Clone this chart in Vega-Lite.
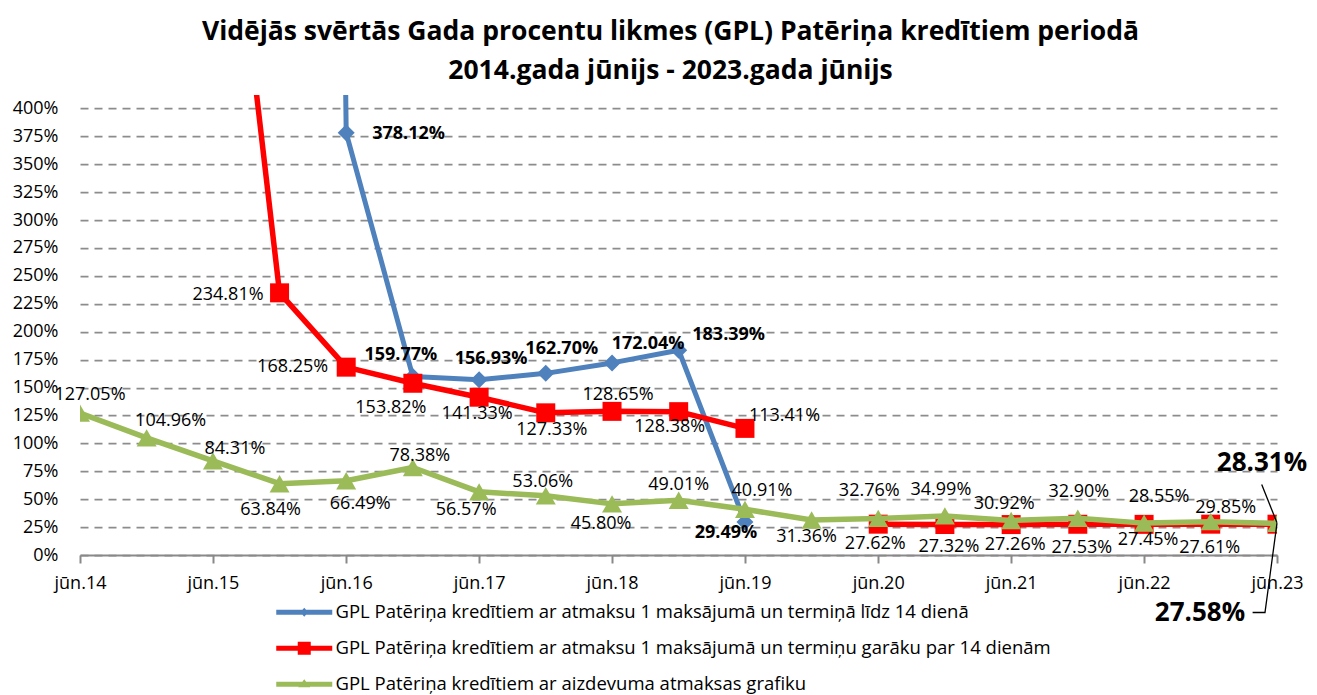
{
  "$schema": "https://vega.github.io/schema/vega-lite/v6.json",
  "width": 1197,
  "height": 460,
  "autosize": {"type": "none"},
  "padding": {"left": 80, "top": 95, "right": 40, "bottom": 140},
  "background": "white",
  "config": {
    "view": {"stroke": null},
    "font": "Open Sans",
    "text": {"font": "Open Sans", "fontSize": 18, "color": "#000000"}
  },
  "title": {
    "text": ["Vidējās svērtās Gada procentu likmes (GPL) Patēriņa kredītiem periodā", "2014.gada jūnijs - 2023.gada jūnijs"],
    "font": "Open Sans",
    "fontSize": 26.5,
    "fontWeight": "bold",
    "color": "#000000",
    "lineHeight": 39,
    "anchor": "middle",
    "frame": "group",
    "dx": -8,
    "offset": 11
  },
  "data": {
    "values": [
      {"d": "2014-06-01", "s": "G", "v": 1.2705},
      {"d": "2014-12-01", "s": "G", "v": 1.0496},
      {"d": "2015-06-01", "s": "G", "v": 0.8431},
      {"d": "2015-12-01", "s": "G", "v": 0.6384},
      {"d": "2016-06-01", "s": "G", "v": 0.6649},
      {"d": "2016-12-01", "s": "G", "v": 0.7838},
      {"d": "2017-06-01", "s": "G", "v": 0.5657},
      {"d": "2017-12-01", "s": "G", "v": 0.5306},
      {"d": "2018-06-01", "s": "G", "v": 0.4580},
      {"d": "2018-12-01", "s": "G", "v": 0.4901},
      {"d": "2019-06-01", "s": "G", "v": 0.4091},
      {"d": "2019-12-01", "s": "G", "v": 0.3136},
      {"d": "2020-06-01", "s": "G", "v": 0.3276},
      {"d": "2020-12-01", "s": "G", "v": 0.3499},
      {"d": "2021-06-01", "s": "G", "v": 0.3092},
      {"d": "2021-12-01", "s": "G", "v": 0.3290},
      {"d": "2022-06-01", "s": "G", "v": 0.2855},
      {"d": "2022-12-01", "s": "G", "v": 0.2985},
      {"d": "2023-06-01", "s": "G", "v": 0.2831},
      {"d": "2015-06-01", "s": "R", "v": 7.5},
      {"d": "2015-12-01", "s": "R", "v": 2.3481},
      {"d": "2016-06-01", "s": "R", "v": 1.6825},
      {"d": "2016-12-01", "s": "R", "v": 1.5382},
      {"d": "2017-06-01", "s": "R", "v": 1.4133},
      {"d": "2017-12-01", "s": "R", "v": 1.2733},
      {"d": "2018-06-01", "s": "R", "v": 1.2865},
      {"d": "2018-12-01", "s": "R", "v": 1.2838},
      {"d": "2019-06-01", "s": "R", "v": 1.1341},
      {"d": "2019-12-01", "s": "R", "v": null},
      {"d": "2020-06-01", "s": "R", "v": 0.2762},
      {"d": "2020-12-01", "s": "R", "v": 0.2732},
      {"d": "2021-06-01", "s": "R", "v": 0.2726},
      {"d": "2021-12-01", "s": "R", "v": 0.2753},
      {"d": "2022-06-01", "s": "R", "v": 0.2745},
      {"d": "2022-12-01", "s": "R", "v": 0.2761},
      {"d": "2023-06-01", "s": "R", "v": 0.2758},
      {"d": "2015-12-01", "s": "B", "v": 50},
      {"d": "2016-06-01", "s": "B", "v": 3.7812},
      {"d": "2016-12-01", "s": "B", "v": 1.5977},
      {"d": "2017-06-01", "s": "B", "v": 1.5693},
      {"d": "2017-12-01", "s": "B", "v": 1.6270},
      {"d": "2018-06-01", "s": "B", "v": 1.7204},
      {"d": "2018-12-01", "s": "B", "v": 1.8339},
      {"d": "2019-06-01", "s": "B", "v": 0.2949}
    ]
  },
  "encoding": {
    "x": {
      "field": "d",
      "type": "temporal",
      "scale": {"type": "utc", "domain": [{"year": 2014, "month": 6, "date": 1, "utc": true}, {"year": 2023, "month": 6, "date": 1, "utc": true}]},
      "axis": {
        "values": [
          {"year": 2014, "month": 6, "date": 1, "utc": true},
          {"year": 2015, "month": 6, "date": 1, "utc": true},
          {"year": 2016, "month": 6, "date": 1, "utc": true},
          {"year": 2017, "month": 6, "date": 1, "utc": true},
          {"year": 2018, "month": 6, "date": 1, "utc": true},
          {"year": 2019, "month": 6, "date": 1, "utc": true},
          {"year": 2020, "month": 6, "date": 1, "utc": true},
          {"year": 2021, "month": 6, "date": 1, "utc": true},
          {"year": 2022, "month": 6, "date": 1, "utc": true},
          {"year": 2023, "month": 6, "date": 1, "utc": true}
        ],
        "labelExpr": "'jūn.' + utcFormat(datum.value, '%y')",
        "title": null,
        "grid": false,
        "domainColor": "#898989",
        "domainWidth": 2,
        "tickColor": "#898989",
        "tickWidth": 2,
        "tickSize": 8,
        "labelFont": "Open Sans",
        "labelFontSize": 18,
        "labelColor": "#000000",
        "labelPadding": 11,
        "labelFlush": false,
        "labelOverlap": false
      }
    },
    "y": {
      "field": "v",
      "type": "quantitative",
      "scale": {"domain": [0, 4.12], "nice": false, "zero": true},
      "axis": {
        "values": [0, 0.25, 0.5, 0.75, 1, 1.25, 1.5, 1.75, 2, 2.25, 2.5, 2.75, 3, 3.25, 3.5, 3.75, 4],
        "format": ".0%",
        "title": null,
        "domain": false,
        "ticks": false,
        "tickSize": 0,
        "grid": true,
        "gridColor": "#8c8c8c",
        "gridDash": [8, 6],
        "gridWidth": 1.75,
        "labelFont": "Open Sans",
        "labelFontSize": 18,
        "labelColor": "#000000",
        "labelPadding": 22
      }
    },
    "color": {
      "field": "s",
      "type": "nominal",
      "scale": {"domain": ["B", "R", "G"], "range": ["#4F81BD", "#FF0000", "#9BBB59"]},
      "legend": {
        "orient": "none",
        "legendX": 215,
        "legendY": 508,
        "direction": "vertical",
        "title": null,
        "labelFont": "Open Sans",
        "labelFontSize": 18.5,
        "labelColor": "#000000",
        "labelLimit": 0,
        "labelOffset": 22,
        "rowPadding": 17,
        "symbolSize": 196,
        "labelExpr": "datum.value == 'B' ? 'GPL Patēriņa kredītiem ar atmaksu 1 maksājumā un termiņā līdz 14 dienā' : datum.value == 'R' ? 'GPL Patēriņa kredītiem ar atmaksu 1 maksājumā un termiņu garāku par 14 dienām' : 'GPL Patēriņa kredītiem ar aizdevuma atmaksas grafiku'",
        "encode": {
          "symbols": {
            "update": {
              "shape": {"signal": "datum.value == 'B' ? 'M-4,-0.36H4V0.36H-4Z M0,-0.64L0.57,0L0,0.64L-0.57,0Z' : datum.value == 'R' ? 'M-4,-0.36H4V0.36H-4Z M-0.93,-0.93H0.93V0.93H-0.93Z' : 'M-4,-0.36H4V0.36H-4Z M0,-0.71L0.86,0.43L-0.86,0.43Z'"},
              "fill": {"signal": "datum.value == 'B' ? '#4F81BD' : datum.value == 'R' ? '#FF0000' : '#9BBB59'"},
              "stroke": {"value": "transparent"},
              "strokeWidth": {"value": 0},
              "opacity": {"value": 1}
            }
          }
        }
      }
    }
  },
  "layer": [
    {"transform": [{"filter": "datum.s == 'B'"}], "mark": {"type": "line", "strokeWidth": 5, "clip": true, "strokeJoin": "round", "strokeCap": "round"}},
    {"transform": [{"filter": "datum.s == 'B'"}], "mark": {"type": "point", "shape": "diamond", "filled": true, "size": 289, "opacity": 1, "clip": true}},
    {"transform": [{"filter": "datum.s == 'R'"}], "mark": {"type": "line", "strokeWidth": 5.5, "clip": true, "strokeJoin": "round", "strokeCap": "round", "invalid": "break-paths-filter-domains"}},
    {"transform": [{"filter": "datum.s == 'R' && isValid(datum.v)"}], "mark": {"type": "point", "shape": "square", "filled": true, "size": 361, "opacity": 1, "clip": true}},
    {"transform": [{"filter": "datum.s == 'G'"}], "mark": {"type": "line", "strokeWidth": 5.5, "clip": true, "strokeJoin": "round", "strokeCap": "round"}},
    {"transform": [{"filter": "datum.s == 'G'"}], "mark": {"type": "point", "shape": "triangle-up", "filled": true, "size": 400, "opacity": 1, "clip": true}},
    {
      "data": {"values": [
        {"g": "a", "d": "2023-04-20", "v": 0.631},
        {"g": "a", "d": "2023-06-01", "v": 0.288},
        {"g": "b", "d": "2023-03-26", "v": -0.515},
        {"g": "b", "d": "2023-04-29", "v": -0.515},
        {"g": "b", "d": "2023-06-01", "v": 0.285}
      ]},
      "mark": {"type": "line", "strokeWidth": 1.3, "clip": false},
      "encoding": {"detail": {"field": "g"}, "color": {"value": "#000000"}}
    },
    {
      "encoding": {
        "text": {"field": "v", "type": "quantitative", "format": ".2%"},
        "color": {"value": "#000000"}
      },
      "layer": [
        {"transform": [{"filter": "datum.s + utcFormat(datum.d, '%y%m') == 'G1406'"}], "mark": {"type": "text", "dx": 10, "dy": -18}},
        {"transform": [{"filter": "datum.s + utcFormat(datum.d, '%y%m') == 'G1412'"}], "mark": {"type": "text", "dx": 24, "dy": -17}},
        {"transform": [{"filter": "datum.s + utcFormat(datum.d, '%y%m') == 'G1506'"}], "mark": {"type": "text", "dx": 22, "dy": -12}},
        {"transform": [{"filter": "datum.s + utcFormat(datum.d, '%y%m') == 'G1512'"}], "mark": {"type": "text", "dx": -9, "dy": 26}},
        {"transform": [{"filter": "datum.s + utcFormat(datum.d, '%y%m') == 'G1606'"}], "mark": {"type": "text", "dx": 14, "dy": 23}},
        {"transform": [{"filter": "datum.s + utcFormat(datum.d, '%y%m') == 'G1612'"}], "mark": {"type": "text", "dx": 7, "dy": -11}},
        {"transform": [{"filter": "datum.s + utcFormat(datum.d, '%y%m') == 'G1706'"}], "mark": {"type": "text", "dx": -13, "dy": 18}},
        {"transform": [{"filter": "datum.s + utcFormat(datum.d, '%y%m') == 'G1712'"}], "mark": {"type": "text", "dx": -3, "dy": -14}},
        {"transform": [{"filter": "datum.s + utcFormat(datum.d, '%y%m') == 'G1806'"}], "mark": {"type": "text", "dx": -11, "dy": 20}},
        {"transform": [{"filter": "datum.s + utcFormat(datum.d, '%y%m') == 'G1812'"}], "mark": {"type": "text", "dx": 0, "dy": -15}},
        {"transform": [{"filter": "datum.s + utcFormat(datum.d, '%y%m') == 'G1906'"}], "mark": {"type": "text", "dx": 17, "dy": -18}},
        {"transform": [{"filter": "datum.s + utcFormat(datum.d, '%y%m') == 'G1912'"}], "mark": {"type": "text", "dx": -5, "dy": 17}},
        {"transform": [{"filter": "datum.s + utcFormat(datum.d, '%y%m') == 'G2006'"}], "mark": {"type": "text", "dx": -9, "dy": -27}},
        {"transform": [{"filter": "datum.s + utcFormat(datum.d, '%y%m') == 'G2012'"}], "mark": {"type": "text", "dx": -4, "dy": -26}},
        {"transform": [{"filter": "datum.s + utcFormat(datum.d, '%y%m') == 'G2106'"}], "mark": {"type": "text", "dx": -7, "dy": -16}},
        {"transform": [{"filter": "datum.s + utcFormat(datum.d, '%y%m') == 'G2112'"}], "mark": {"type": "text", "dx": 1, "dy": -26}},
        {"transform": [{"filter": "datum.s + utcFormat(datum.d, '%y%m') == 'G2206'"}], "mark": {"type": "text", "dx": 15, "dy": -26}},
        {"transform": [{"filter": "datum.s + utcFormat(datum.d, '%y%m') == 'G2212'"}], "mark": {"type": "text", "dx": 15, "dy": -14}},
        {"transform": [{"filter": "datum.s + utcFormat(datum.d, '%y%m') == 'G2306'"}], "mark": {"type": "text", "dx": -15, "dy": -60, "fontSize": 26, "fontWeight": "bold"}},
        {"transform": [{"filter": "datum.s + utcFormat(datum.d, '%y%m') == 'R1512'"}], "mark": {"type": "text", "align": "right", "dx": -16, "dy": 2}},
        {"transform": [{"filter": "datum.s + utcFormat(datum.d, '%y%m') == 'R1606'"}], "mark": {"type": "text", "align": "right", "dx": -18, "dy": 0}},
        {"transform": [{"filter": "datum.s + utcFormat(datum.d, '%y%m') == 'R1612'"}], "mark": {"type": "text", "dx": -22, "dy": 25}},
        {"transform": [{"filter": "datum.s + utcFormat(datum.d, '%y%m') == 'R1706'"}], "mark": {"type": "text", "dx": -2, "dy": 17}},
        {"transform": [{"filter": "datum.s + utcFormat(datum.d, '%y%m') == 'R1712'"}], "mark": {"type": "text", "dx": 6, "dy": 17}},
        {"transform": [{"filter": "datum.s + utcFormat(datum.d, '%y%m') == 'R1806'"}], "mark": {"type": "text", "dx": 6, "dy": -16}},
        {"transform": [{"filter": "datum.s + utcFormat(datum.d, '%y%m') == 'R1812'"}], "mark": {"type": "text", "dx": -9, "dy": 15}},
        {"transform": [{"filter": "datum.s + utcFormat(datum.d, '%y%m') == 'R1906'"}], "mark": {"type": "text", "align": "left", "dx": 4, "dy": -12}},
        {"transform": [{"filter": "datum.s + utcFormat(datum.d, '%y%m') == 'R2006'"}], "mark": {"type": "text", "dx": -3, "dy": 20}},
        {"transform": [{"filter": "datum.s + utcFormat(datum.d, '%y%m') == 'R2012'"}], "mark": {"type": "text", "dx": 4, "dy": 23}},
        {"transform": [{"filter": "datum.s + utcFormat(datum.d, '%y%m') == 'R2106'"}], "mark": {"type": "text", "dx": 4, "dy": 20}},
        {"transform": [{"filter": "datum.s + utcFormat(datum.d, '%y%m') == 'R2112'"}], "mark": {"type": "text", "dx": 4, "dy": 24}},
        {"transform": [{"filter": "datum.s + utcFormat(datum.d, '%y%m') == 'R2206'"}], "mark": {"type": "text", "dx": 4, "dy": 16}},
        {"transform": [{"filter": "datum.s + utcFormat(datum.d, '%y%m') == 'R2212'"}], "mark": {"type": "text", "dx": -1, "dy": 24}},
        {"transform": [{"filter": "datum.s + utcFormat(datum.d, '%y%m') == 'R2306'"}], "mark": {"type": "text", "dx": -77, "dy": 89, "fontSize": 26, "fontWeight": "bold"}},
        {"transform": [{"filter": "datum.s + utcFormat(datum.d, '%y%m') == 'B1606'"}], "mark": {"type": "text", "align": "left", "dx": 26, "dy": 1, "fontWeight": "bold"}},
        {"transform": [{"filter": "datum.s + utcFormat(datum.d, '%y%m') == 'B1612'"}], "mark": {"type": "text", "dx": -12, "dy": -22, "fontWeight": "bold"}},
        {"transform": [{"filter": "datum.s + utcFormat(datum.d, '%y%m') == 'B1706'"}], "mark": {"type": "text", "dx": 12, "dy": -21, "fontWeight": "bold"}},
        {"transform": [{"filter": "datum.s + utcFormat(datum.d, '%y%m') == 'B1712'"}], "mark": {"type": "text", "dx": 16, "dy": -24, "fontWeight": "bold"}},
        {"transform": [{"filter": "datum.s + utcFormat(datum.d, '%y%m') == 'B1806'"}], "mark": {"type": "text", "dx": 36, "dy": -19, "fontWeight": "bold"}},
        {"transform": [{"filter": "datum.s + utcFormat(datum.d, '%y%m') == 'B1812'"}], "mark": {"type": "text", "dx": 50, "dy": -15, "fontWeight": "bold"}},
        {"transform": [{"filter": "datum.s + utcFormat(datum.d, '%y%m') == 'B1906'"}], "mark": {"type": "text", "dx": -19, "dy": 11, "fontWeight": "bold"}}
      ]
    }
  ]
}
